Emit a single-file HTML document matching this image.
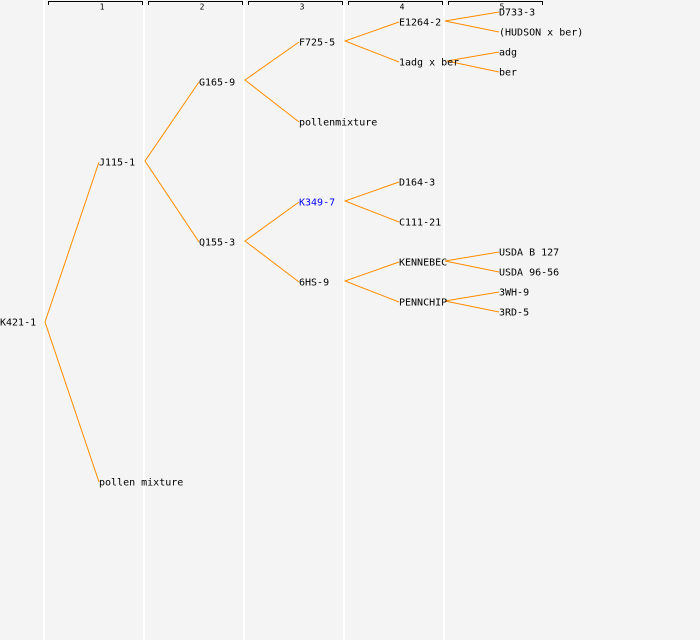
<!DOCTYPE html>
<html><head><style>
html,body{margin:0;padding:0;background:#f4f4f4;}
svg{display:block}
text{font-family:"DejaVu Sans Mono","Liberation Mono",monospace;font-size:10px;fill:#000;dominant-baseline:central}
</style></head><body>
<svg width="700" height="640" xmlns="http://www.w3.org/2000/svg">
<rect width="700" height="640" fill="#f4f4f4"/>
<g stroke="#ffffff" stroke-width="2">
<line x1="44" y1="0" x2="44" y2="640"/><line x1="144" y1="0" x2="144" y2="640"/>
<line x1="244" y1="0" x2="244" y2="640"/><line x1="344" y1="0" x2="344" y2="640"/>
<line x1="444" y1="0" x2="444" y2="640"/>
</g>
<g stroke="#000" stroke-width="1" fill="none">
<path d="M48.5,5V1.5H142.5V5"/><path d="M148.5,5V1.5H242.5V5"/><path d="M248.5,5V1.5H342.5V5"/>
<path d="M348.5,5V1.5H442.5V5"/><path d="M448.5,5V1.5H542.5V5"/>
</g>
<g><text x="102" y="7" text-anchor="middle" style="font-size:8px">1</text>
<text x="202" y="7" text-anchor="middle" style="font-size:8px">2</text>
<text x="302" y="7" text-anchor="middle" style="font-size:8px">3</text>
<text x="402" y="7" text-anchor="middle" style="font-size:8px">4</text>
<text x="502" y="7" text-anchor="middle" style="font-size:8px">5</text></g>
<g stroke="#ff8c00" stroke-width="1" fill="none">
<polyline points="99,162 45,322 99,482"/>
<polyline points="199,82 145,161 199,242"/>
<polyline points="299,42 245,80 299,122"/>
<polyline points="299,202 245,241 299,282"/>
<polyline points="399,22 345,41 399,62"/>
<polyline points="399,182 345,201 399,222"/>
<polyline points="399,262 345,281 399,302"/>
<polyline points="499,12 445,21 499,32"/>
<polyline points="499,52 447,61 499,72"/>
<polyline points="499,252 445,261 499,272"/>
<polyline points="499,292 445,301 499,312"/>
</g>
<g transform="translate(0,1)">
<text x="0" y="322">K421-1</text>
<text x="99" y="162">J115-1</text>
<text x="99" y="482">pollen mixture</text>
<text x="199" y="82">G165-9</text>
<text x="199" y="242">Q155-3</text>
<text x="299" y="42">F725-5</text>
<text x="299" y="122">pollenmixture</text>
<text x="299" y="202" style="fill:#0000ff">K349-7</text>
<text x="299" y="282">6HS-9</text>
<text x="399" y="22">E1264-2</text>
<text x="399" y="62">1adg x ber</text>
<text x="399" y="182">D164-3</text>
<text x="399" y="222">C111-21</text>
<text x="399" y="262">KENNEBEC</text>
<text x="399" y="302">PENNCHIP</text>
<text x="499" y="12">D733-3</text>
<text x="499" y="32">(HUDSON x ber)</text>
<text x="499" y="52">adg</text>
<text x="499" y="72">ber</text>
<text x="499" y="252">USDA B 127</text>
<text x="499" y="272">USDA 96-56</text>
<text x="499" y="292">3WH-9</text>
<text x="499" y="312">3RD-5</text>
</g>
</svg>
</body></html>
